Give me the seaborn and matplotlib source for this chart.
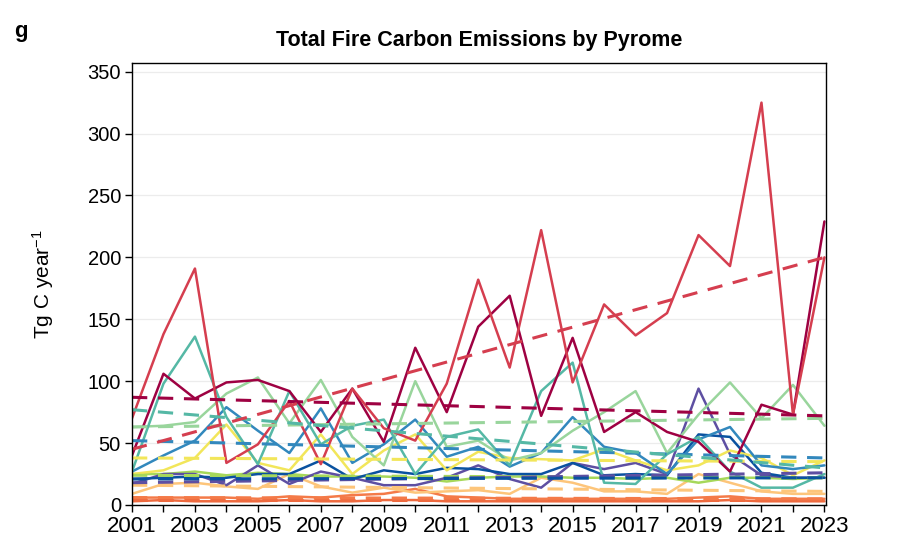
import numpy as np
import pandas as pd
import matplotlib
matplotlib.use("Agg")
import matplotlib.pyplot as plt
import seaborn as sns

years = list(range(2001, 2024))

# Pyrome series (Tg C / yr)
maroon = [40, 106, 86, 99, 101, 92, 59, 94, 51, 127, 75, 144, 169, 72, 135, 59, 75, 59, 51, 27, 81, 73, 229]
red = [70, 138, 191, 34, 49, 84, 33, 94, 62, 52, 98, 182, 111, 222, 99, 162, 137, 155, 218, 193, 325, 73, 200]
teal = [27, 98, 136, 71, 33, 92, 49, 64, 69, 25, 55, 61, 32, 92, 115, 18, 17, 41, 55, 27, 14, 14, 25]
lightgreen = [63, 64, 67, 90, 103, 66, 101, 55, 32, 100, 47, 52, 36, 42, 60, 75, 92, 42, 73, 99, 70, 97, 64]
blue = [27, 40, 52, 79, 60, 42, 78, 34, 49, 69, 39, 47, 31, 42, 71, 47, 42, 25, 53, 63, 32, 29, 32]
darkblue = [21, 22, 23, 22, 25, 25, 36, 21, 28, 25, 30, 29, 25, 25, 34, 24, 25, 24, 57, 55, 26, 22, 22]
purple = [17, 25, 25, 16, 32, 17, 27, 22, 16, 16, 22, 32, 21, 14, 34, 29, 34, 25, 94, 41, 24, 22, 22]
yellow = [25, 28, 38, 65, 34, 28, 57, 25, 44, 57, 28, 43, 38, 37, 36, 45, 36, 28, 32, 44, 38, 24, 36]
lime = [25, 25, 27, 24, 26, 25, 23, 23, 23, 22, 19, 22, 23, 23, 22, 22, 21, 22, 18, 22, 22, 21, 22]
lightorange = [9, 17, 18, 15, 13, 25, 15, 10, 14, 10, 11, 12, 9, 22, 18, 11, 11, 9, 25, 18, 11, 9, 9]
orangered = [6, 6, 6, 6, 5, 7, 6, 8, 9, 13, 7, 6, 5, 5, 5, 5, 5, 5, 6, 7, 5, 5, 5]
darkorange = [3, 4, 3, 3, 3, 4, 3, 3, 4, 4, 3, 3, 3, 3, 3, 3, 3, 3, 3, 4, 3, 3, 3]

names = ["darkorange", "orangered", "lightorange", "lime", "purple", "darkblue",
         "yellow", "blue", "lightgreen", "teal", "maroon", "red"]
series = [darkorange, orangered, lightorange, lime, purple, darkblue,
          yellow, blue, lightgreen, teal, maroon, red]
colors = ["#ee6a3f", "#f47a48", "#fdc57a", "#a6d85a", "#5e4fa2", "#0a52a0",
          "#f2e65a", "#3288bd", "#99d59c", "#55b8a5", "#9e0142", "#d53e4f"]

# Trend line end values (2001, 2023)
trend_start = [4, 6, 16, 24, 18, 21, 38, 52, 63, 77, 87, 45]
trend_end = [4, 5, 11, 22, 26, 22, 35, 38, 70, 30, 72, 200]

df = pd.DataFrame({
    "year": np.tile(years, len(names)),
    "value": np.concatenate(series),
    "pyrome": np.repeat(names, len(years)),
})
tr = pd.DataFrame({
    "year": np.tile([years[0], years[-1]], len(names)),
    "value": np.ravel(np.column_stack([trend_start, trend_end])),
    "pyrome": np.repeat(names, 2),
})
pal = dict(zip(names, colors))

sns.set_style("white")
plt.rcParams["font.family"] = ["Liberation Sans", "DejaVu Sans"]
plt.rcParams["mathtext.fontset"] = "custom"
plt.rcParams["mathtext.rm"] = "Liberation Sans"
plt.rcParams["mathtext.it"] = "Liberation Sans:italic"
plt.rcParams["mathtext.default"] = "regular"
plt.rcParams["text.color"] = "black"
plt.rcParams["axes.labelcolor"] = "black"
plt.rcParams["xtick.color"] = "black"
plt.rcParams["ytick.color"] = "black"

fig = plt.figure(figsize=(9.11, 5.49), dpi=100)
ax = fig.add_axes([132 / 911, 1 - 505 / 549, 694 / 911, 442 / 549])

ax.yaxis.grid(True, color="#ececec", linewidth=0.9)
ax.set_axisbelow(True)

sns.lineplot(data=df, x="year", y="value", hue="pyrome", palette=pal,
             hue_order=names, linewidth=1.8, ax=ax, legend=False)
sns.lineplot(data=tr, x="year", y="value", hue="pyrome", palette=pal,
             hue_order=names, linewidth=2.2, ax=ax, legend=False,
             dashes=False)
for ln in ax.lines[len(names):]:
    ln.set_linestyle((0, (5, 3.5)))

ax.set_xlim(2001, 2023.05)
ax.set_ylim(0, 357)
ax.set_xticks(years)
ax.set_xticklabels([str(y) if y % 2 == 1 else "" for y in years], fontsize=16)
ax.set_yticks([0, 50, 100, 150, 200, 250, 300, 350])
ax.tick_params(axis="y", labelsize=14.5)
ax.tick_params(axis="both", direction="out", length=5, width=1, color="black",
               labelcolor="black", bottom=True, left=True, pad=3)
for s in ax.spines.values():
    s.set_color("black")
    s.set_linewidth(1.0)

ax.set_xlabel("")
ax.set_ylabel("Tg C year$^{-1}$", fontsize=15, color="black")
ax.yaxis.set_label_coords(-0.11, 0.5)
ax.set_title("Total Fire Carbon Emissions by Pyrome", fontsize=15.5,
             fontweight="bold", pad=12, color="black")
fig.text(14 / 911, 1 - 32 / 549, "g", fontsize=16, fontweight="bold",
         ha="left", va="center", color="black")

fig.savefig("out.png", dpi=100)
